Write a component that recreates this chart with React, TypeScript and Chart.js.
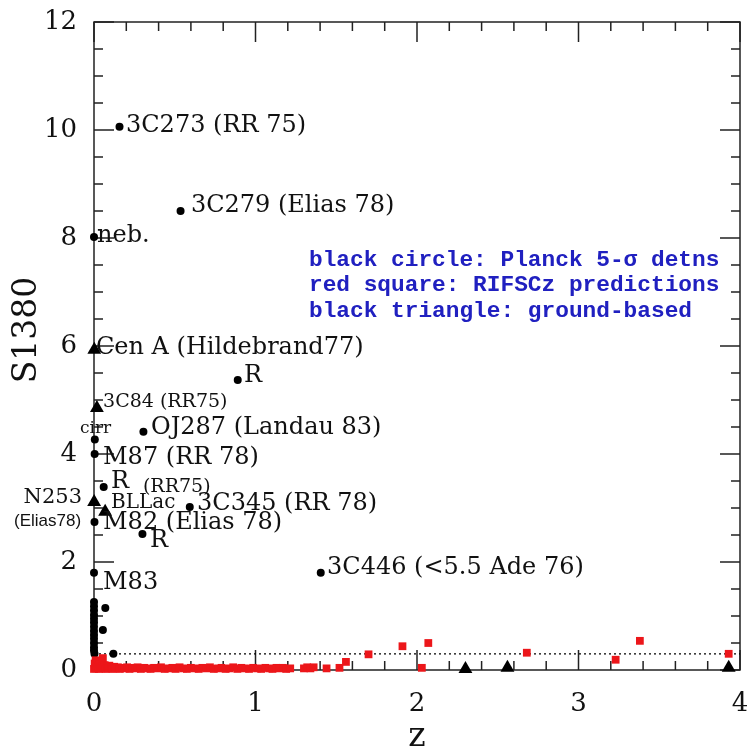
import React, { useEffect, useRef } from "react";
import { Chart, registerables } from "chart.js";

Chart.register(...registerables);

// ---------- data ----------
// Planck 5-sigma detections (black circles)
const planckZ = [0.158, 0.536, 0.0, 0.89, 0.005, 0.306, 0.004, 0.06, 0.593, 0.003, 0.30, 0.0, 1.404,
  0.0, 0.0, 0.0, 0.0, 0.0, 0.0, 0.0, 0.0, 0.0, 0.0, 0.0, 0.0, 0.0, 0.003, 0.07, 0.055, 0.12];
const planckS = [10.06, 8.5, 8.02, 5.37, 4.27, 4.41, 4.0, 3.39, 3.02, 2.74, 2.52, 1.8, 1.8,
  1.26, 1.18, 1.1, 1.02, 0.95, 0.88, 0.8, 0.72, 0.65, 0.58, 0.5, 0.42, 0.36, 0.3, 1.15, 0.74, 0.3];

// RIFSCz predictions (red squares)
const rifsZ = [0.000, 0.004, 0.008, 0.010, 0.014, 0.018, 0.020, 0.024, 0.028, 0.030, 0.034, 0.040, 0.045,
  0.050, 0.055, 0.060, 0.066, 0.072, 0.080, 0.088, 0.095, 0.105, 0.115, 0.125, 0.135, 0.148, 0.160, 0.175,
  0.190, 0.205, 0.220, 0.238, 0.255, 0.270, 0.290, 0.310, 0.330, 0.350, 0.372, 0.395, 0.415, 0.438, 0.460,
  0.485, 0.505, 0.530, 0.552, 0.575, 0.600, 0.622, 0.648, 0.670, 0.695, 0.718, 0.742, 0.768, 0.790, 0.815,
  0.840, 0.862, 0.888, 0.912, 0.935, 0.960, 0.985, 1.010, 1.035, 1.060, 1.085, 1.105, 1.130, 1.150, 1.170,
  1.190, 1.215, 1.300, 1.320, 1.340, 1.360, 1.440, 1.520, 1.560, 1.700, 1.910, 2.030, 2.070, 2.680, 3.230,
  3.380, 3.930];
const rifsS = [0.02, 0.12, 0.06, 0.18, 0.03, 0.09, 0.14, 0.04, 0.08, 0.02, 0.11, 0.05, 0.03,
  0.07, 0.22, 0.04, 0.09, 0.02, 0.06, 0.03, 0.08, 0.04, 0.02, 0.06, 0.03, 0.05, 0.02, 0.04,
  0.03, 0.05, 0.02, 0.04, 0.03, 0.05, 0.02, 0.04, 0.03, 0.02, 0.04, 0.03, 0.05, 0.02, 0.03,
  0.04, 0.02, 0.05, 0.03, 0.02, 0.04, 0.03, 0.02, 0.04, 0.03, 0.05, 0.02, 0.03, 0.04, 0.02,
  0.03, 0.05, 0.02, 0.04, 0.03, 0.02, 0.04, 0.03, 0.02, 0.04, 0.03, 0.02, 0.04, 0.03, 0.04,
  0.02, 0.03, 0.03, 0.05, 0.03, 0.05, 0.03, 0.04, 0.15, 0.29, 0.44, 0.04, 0.50, 0.32, 0.19,
  0.54, 0.30];

// ground-based (black triangles)
const groundZ = [0.0018, 0.018, 0.0008, 0.069, 2.30, 2.56, 3.93];
const groundS = [5.93, 4.85, 3.11, 2.93, 0.02, 0.04, 0.04];

// dotted reference level
const dottedLevel = 0.3;

// axis ticks
const xTickValues = [0, 1, 2, 3, 4];
const yTickValues = [0, 2, 4, 6, 8, 10, 12];
const xTitle = "z";
const yTitle = "S1380";

// annotations: text, anchor (z, S), font, align
type Ann = { text: string; z: number; s: number; font: string; align?: CanvasTextAlign; color?: string };
const LBL = "24px 'DejaVu Serif'";
const SML = "19px 'DejaVu Serif'";
const annotations: Ann[] = [
  { text: "3C273 (RR 75)", z: 0.198, s: 10.07, font: LBL },
  { text: "3C279 (Elias 78)", z: 0.6, s: 8.59, font: LBL },
  { text: "neb.", z: 0.019, s: 8.04, font: LBL },
  { text: "Cen A (Hildebrand77)", z: 0.012, s: 5.96, font: LBL },
  { text: "R", z: 0.929, s: 5.44, font: LBL },
  { text: "3C84 (RR75)", z: 0.056, s: 4.96, font: SML },
  { text: "cirr", z: -0.087, s: 4.48, font: "17px 'DejaVu Serif'" },
  { text: "OJ287 (Landau 83)", z: 0.353, s: 4.48, font: LBL },
  { text: "M87 (RR 78)", z: 0.056, s: 3.93, font: LBL },
  { text: "R", z: 0.105, s: 3.48, font: LBL },
  { text: "(RR75)", z: 0.303, s: 3.39, font: SML },
  { text: "N253", z: -0.074, s: 3.2, font: "21px 'DejaVu Serif'", align: "right" },
  { text: "BLLac", z: 0.105, s: 3.09, font: "20px 'DejaVu Serif'" },
  { text: "3C345 (RR 78)", z: 0.638, s: 3.07, font: LBL },
  { text: "(Elias78)", z: -0.495, s: 2.76, font: "17px 'Liberation Sans'" },
  { text: "M82 (Elias 78)", z: 0.056, s: 2.72, font: LBL },
  { text: "R", z: 0.347, s: 2.39, font: LBL },
  { text: "M83", z: 0.056, s: 1.61, font: LBL },
  { text: "3C446 (<5.5 Ade 76)", z: 1.443, s: 1.89, font: LBL },
];
const LEG = "bold 22.8px 'Liberation Mono'";
const legendLines: Ann[] = [
  { text: "black circle: Planck 5-σ detns", z: 1.331, s: 7.59, font: LEG, color: "#2020c0" },
  { text: "red square: RIFSCz predictions", z: 1.331, s: 7.13, font: LEG, color: "#2020c0" },
  { text: "black triangle: ground-based", z: 1.331, s: 6.65, font: LEG, color: "#2020c0" },
];

const zip = (xs: number[], ys: number[]) => xs.map((x, i) => ({ x, y: ys[i] }));

const framePlugin = {
  id: "frameTicks",
  beforeDatasetsDraw(chart: any) {
    const { ctx, chartArea: a, scales } = chart;
    const x = scales.x, y = scales.y;
    ctx.save();
    ctx.strokeStyle = "#222";
    ctx.lineWidth = 1.5;
    ctx.strokeRect(a.left, a.top, a.right - a.left, a.bottom - a.top);
    ctx.beginPath();
    for (let i = 0; i <= 20; i++) {
      const px = x.getPixelForValue(i * 0.2);
      const len = i % 5 === 0 ? 20 : 9;
      ctx.moveTo(px, a.bottom); ctx.lineTo(px, a.bottom - len);
      ctx.moveTo(px, a.top); ctx.lineTo(px, a.top + len);
    }
    for (let i = 0; i <= 24; i++) {
      const py = y.getPixelForValue(i * 0.5);
      const len = i % 4 === 0 ? 20 : 9;
      ctx.moveTo(a.left, py); ctx.lineTo(a.left + len, py);
      ctx.moveTo(a.right, py); ctx.lineTo(a.right - len, py);
    }
    ctx.stroke();
    ctx.restore();
  },
  afterDatasetsDraw(chart: any) {
    const { ctx, chartArea: a, scales } = chart;
    const x = scales.x, y = scales.y;
    ctx.save();
    ctx.textBaseline = "middle";
    for (const t of [...annotations, ...legendLines]) {
      ctx.font = t.font;
      ctx.fillStyle = t.color || "#111";
      ctx.textAlign = t.align || "left";
      ctx.fillText(t.text, x.getPixelForValue(t.z), y.getPixelForValue(t.s));
    }
    // axis titles
    ctx.fillStyle = "#111";
    ctx.font = "33px 'DejaVu Serif'";
    ctx.textAlign = "center";
    ctx.textBaseline = "alphabetic";
    ctx.fillText(xTitle, (a.left + a.right) / 2, 746);
    ctx.translate(36, 330);
    ctx.rotate(-Math.PI / 2);
    ctx.fillText(yTitle, 0, 0);
    ctx.restore();
  },
};

export default function App() {
  const ref = useRef<HTMLCanvasElement | null>(null);
  useEffect(() => {
    if (!ref.current) return;
    const chart = new Chart(ref.current, {
      type: "scatter",
      data: {
        datasets: [
          {
            label: "RIFSCz predictions",
            data: zip(rifsZ, rifsS),
            pointStyle: "rect",
            pointRadius: 5.5,
            backgroundColor: "rgb(236,22,26)",
            borderWidth: 0,
            clip: false as any,
          },
          {
            label: "ground-based",
            data: zip(groundZ, groundS),
            pointStyle: "triangle",
            pointRadius: 8,
            backgroundColor: "#000",
            borderWidth: 0,
            clip: false as any,
          },
          {
            label: "Planck 5-sigma detns",
            data: zip(planckZ, planckS),
            pointStyle: "circle",
            pointRadius: 4,
            backgroundColor: "#000",
            borderWidth: 0,
            clip: false as any,
          },
          {
            type: "line" as any,
            label: "level",
            data: [{ x: 0, y: dottedLevel }, { x: 4, y: dottedLevel }],
            borderColor: "#000",
            borderWidth: 1.2,
            borderDash: [2, 3],
            pointRadius: 0,
            showLine: true,
          },
        ],
      },
      options: {
        animation: false,
        responsive: false,
        devicePixelRatio: 1,
        layout: { padding: { top: 22, right: 14, left: 0, bottom: 0 } },
        plugins: { legend: { display: false }, tooltip: { enabled: false } },
        scales: {
          x: {
            type: "linear",
            min: 0,
            max: 4,
            afterFit: (s: any) => { s.height = 81; s.paddingLeft = 0; s.paddingRight = 0; },
            afterBuildTicks: (s: any) => { s.ticks = xTickValues.map((v) => ({ value: v })); },
            grid: { display: false, drawTicks: false },
            border: { display: false },
            ticks: { padding: 19, color: "#111", font: { family: "DejaVu Serif", size: 26 } },
          },
          y: {
            type: "linear",
            min: 0,
            max: 12,
            afterFit: (s: any) => { s.width = 94; s.paddingTop = 0; s.paddingBottom = 0; },
            afterBuildTicks: (s: any) => { s.ticks = yTickValues.map((v) => ({ value: v })); },
            grid: { display: false, drawTicks: false },
            border: { display: false },
            ticks: { padding: 17, color: "#111", font: { family: "DejaVu Serif", size: 26 } },
          },
        },
      },
      plugins: [framePlugin],
    });
    return () => chart.destroy();
  }, []);
  return (
    <div style={{ position: "fixed", left: 0, top: 0, width: 754, height: 751, background: "#fff" }}>
      <canvas ref={ref} width={754} height={751} />
    </div>
  );
}
